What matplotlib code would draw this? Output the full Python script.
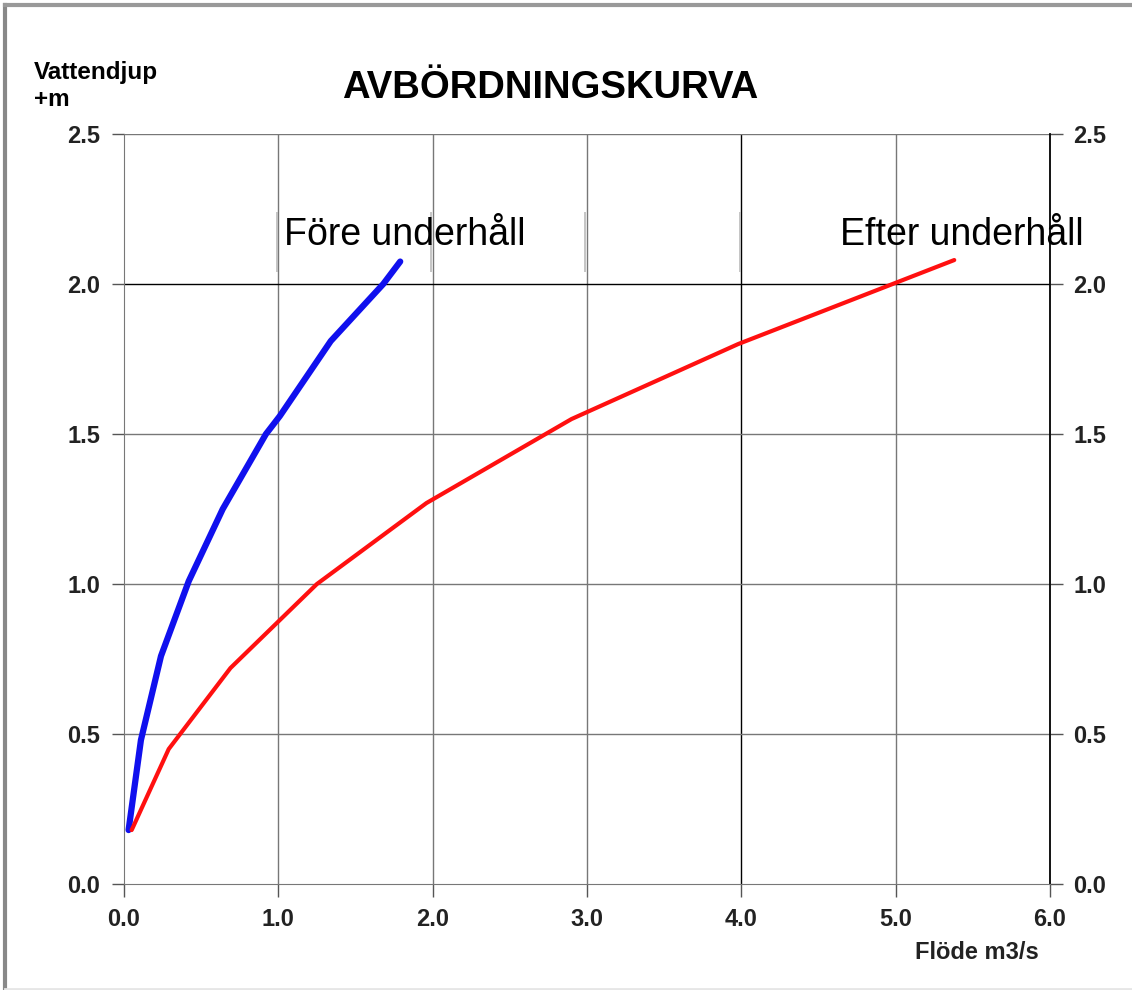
import matplotlib.pyplot as plt
from matplotlib.lines import Line2D

plt.rcParams['font.family'] = ['Liberation Sans', 'DejaVu Sans']

# rating curve before maintenance (flow m3/s, depth m)
fore_q = [0.03, 0.11, 0.24, 0.42, 0.64, 0.92, 1.01, 1.34, 1.68, 1.79]
fore_h = [0.18, 0.48, 0.76, 1.01, 1.25, 1.50, 1.56, 1.81, 2.00, 2.075]

# after maintenance
efter_q = [0.05, 0.29, 0.69, 1.25, 1.96, 2.90, 3.98, 4.98, 5.38]
efter_h = [0.18, 0.45, 0.72, 1.00, 1.27, 1.55, 1.80, 2.00, 2.08]

x_ticks = [0, 1, 2, 3, 4, 5, 6]
y_ticks = [0.0, 0.5, 1.0, 1.5, 2.0, 2.5]

fig = plt.figure(figsize=(11.32, 9.9), dpi=100)
ax = fig.add_axes([0.1095, 0.107, 0.818, 0.7576])

ax.set_xlim(0, 6)
ax.set_ylim(0, 2.5)

for x in x_ticks[1:-1]:
    c = 'black' if x == 4 else '#777777'
    ax.axvline(x, color=c, lw=1.0, zorder=1)
for y in y_ticks[1:]:
    c = 'black' if y == 2.0 else '#777777'
    ax.axhline(y, color=c, lw=1.0, zorder=1)

# faint marks left over around the labels
ax.vlines([0.99, 1.99, 2.99, 3.99], 2.04, 2.24, color='#bbbbbb', lw=1.2, zorder=1)

ax.plot(fore_q, fore_h, color='#1010ee', lw=4.5, solid_capstyle='round',
        solid_joinstyle='round', zorder=3)
ax.plot(efter_q, efter_h, color='#ff1010', lw=3, solid_capstyle='round', zorder=3)

ax.text(1.04, 2.165, 'Före underhåll', fontsize=27, va='center', ha='left')
ax.text(4.64, 2.165, 'Efter underhåll', fontsize=27, va='center', ha='left')

ax.set_xticks(x_ticks)
ax.set_xticklabels(['%.1f' % v for v in x_ticks], fontsize=17, fontweight='bold', color='#222222')
ax.set_yticks(y_ticks)
ax.set_yticklabels(['%.1f' % v for v in y_ticks], fontsize=17, fontweight='bold', color='#222222')
ax.tick_params(axis='both', direction='out', length=9, width=1, color='#555555', pad=8)
ax.tick_params(axis='y', labelright=True, right=True, direction='out')

ax.spines['top'].set_visible(False)
ax.spines['left'].set_color('#777777')
ax.spines['bottom'].set_color('#777777')
ax.spines['right'].set_color('black')
ax.spines['right'].set_linewidth(1.3)

fig.text(0.030, 0.927, 'Vattendjup', fontsize=17.5, fontweight='bold', va='center', ha='left')
fig.text(0.030, 0.899, '+m', fontsize=17.5, fontweight='bold', va='center', ha='left')
fig.text(0.486, 0.911, 'AVBÖRDNINGSKURVA', fontsize=27.5, fontweight='bold', va='center', ha='center')
fig.text(0.808, 0.038, 'Flöde m3/s', fontsize=17, fontweight='bold', va='center', ha='left', color='#222222')

# outer frame (left and top only, faint bottom)
fig.lines.append(Line2D([0.004, 0.004], [0.0, 0.995], transform=fig.transFigure, color='#888888', lw=3))
fig.lines.append(Line2D([0.004, 1.0], [0.995, 0.995], transform=fig.transFigure, color='#999999', lw=3))
fig.lines.append(Line2D([0.004, 1.0], [0.001, 0.001], transform=fig.transFigure, color='#e6e6e6', lw=2))

fig.savefig('out.png', dpi=100)
